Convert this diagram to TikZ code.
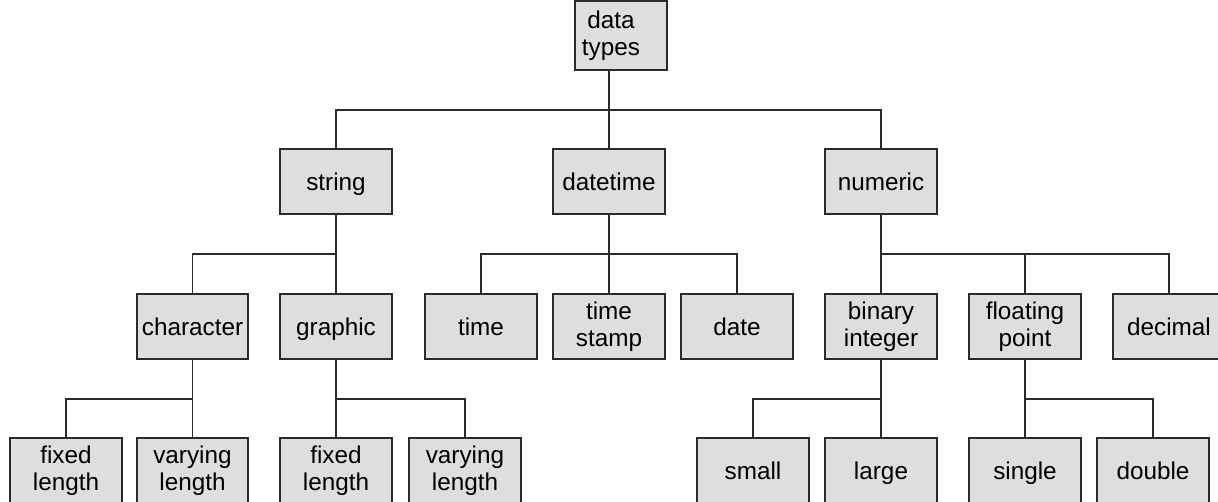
\documentclass[tikz,border=0pt]{standalone}
\usepackage{fontspec}
\setmainfont{Liberation Sans}
\definecolor{boxfill}{HTML}{DEDEDE}
\definecolor{linec}{HTML}{2A2A2A}
\begin{document}
\begin{tikzpicture}[x=1pt,y=-1pt,
  box/.style={draw=linec, fill=boxfill, line width=1.3pt, minimum height=65pt,
    minimum width=112pt, inner sep=0pt, align=center,
    font=\fontsize{24.3}{27.5}\selectfont},
  one/.style={text height=18pt, text depth=1pt},
  two/.style={execute at begin node={\rule{0pt}{20pt}}},
  lbl/.style={inner sep=0pt, align=center, font=\fontsize{24.3}{27.5}\selectfont,
    execute at begin node={\rule{0pt}{20pt}}},
  conn/.style={draw=linec, line width=1.3pt}]
\useasboundingbox (0,0) rectangle (1218,501);
\clip (0,0) rectangle (1218,501);
% row 1
\node[box, minimum width=92pt, minimum height=69pt] (dt) at (621,35.5) {};
\node[lbl] (dtl) at (611,35.5) {data\\types};
% row 2
\node[box, one] (str) at (336,181.5) {string};
\node[box, one] (dtm) at (609,181.5) {datetime};
\node[box, one] (num) at (881,181.5) {numeric};
% row 3
\node[box, one, minimum width=111pt] (chr) at (192.5,326.5) {character};
\node[box, one] (gra) at (336,326.5) {graphic};
\node[box, one] (tim) at (481,326.5) {time};
\node[box, two] (tst) at (609,326.5) {time\\stamp};
\node[box, one] (dat) at (737,326.5) {date};
\node[box, two] (bin) at (881,326.5) {binary\\integer};
\node[box, two] (flo) at (1025,326.5) {floating\\point};
\node[box, one] (dec) at (1169,326.5) {decimal};
% row 4
\node[box, two] (fl1) at (66,470.5) {fixed\\length};
\node[box, two, minimum width=111pt] (vl1) at (192.5,470.5) {varying\\length};
\node[box, two] (fl2) at (336,470.5) {fixed\\length};
\node[box, two] (vl2) at (465,470.5) {varying\\length};
\node[box, one] (sml) at (753,470.5) {small};
\node[box, one] (lrg) at (881,470.5) {large};
\node[box, one] (sgl) at (1025,470.5) {single};
\node[box, one] (dbl) at (1153,470.5) {double};
% bus levels
\coordinate (b1) at (0,110);
\coordinate (b2) at (0,254);
\coordinate (b3) at (0,399);
% connectors
\draw[conn] (dtm.north |- dt.south) -- (dtm.north);
\draw[conn] (str.north) -- (str.north |- b1) -- (num.north |- b1) -- (num.north);
\draw[conn] (str.south) -- (gra.north);
\draw[conn] (chr.north) -- (chr.north |- b2) -- (str.south |- b2);
\draw[conn] (dtm.south) -- (tst.north);
\draw[conn] (tim.north) -- (tim.north |- b2) -- (dat.north |- b2) -- (dat.north);
\draw[conn] (num.south) -- (bin.north);
\draw[conn] (num.south |- b2) -- (dec.north |- b2) -- (dec.north);
\draw[conn] (flo.north) -- (flo.north |- b2);
\draw[conn] (chr.south) -- (vl1.north);
\draw[conn] (fl1.north) -- (fl1.north |- b3) -- (chr.south |- b3);
\draw[conn] (gra.south) -- (fl2.north);
\draw[conn] (gra.south |- b3) -- (vl2.north |- b3) -- (vl2.north);
\draw[conn] (bin.south) -- (lrg.north);
\draw[conn] (sml.north) -- (sml.north |- b3) -- (bin.south |- b3);
\draw[conn] (flo.south) -- (sgl.north);
\draw[conn] (flo.south |- b3) -- (dbl.north |- b3) -- (dbl.north);
\end{tikzpicture}
\end{document}
